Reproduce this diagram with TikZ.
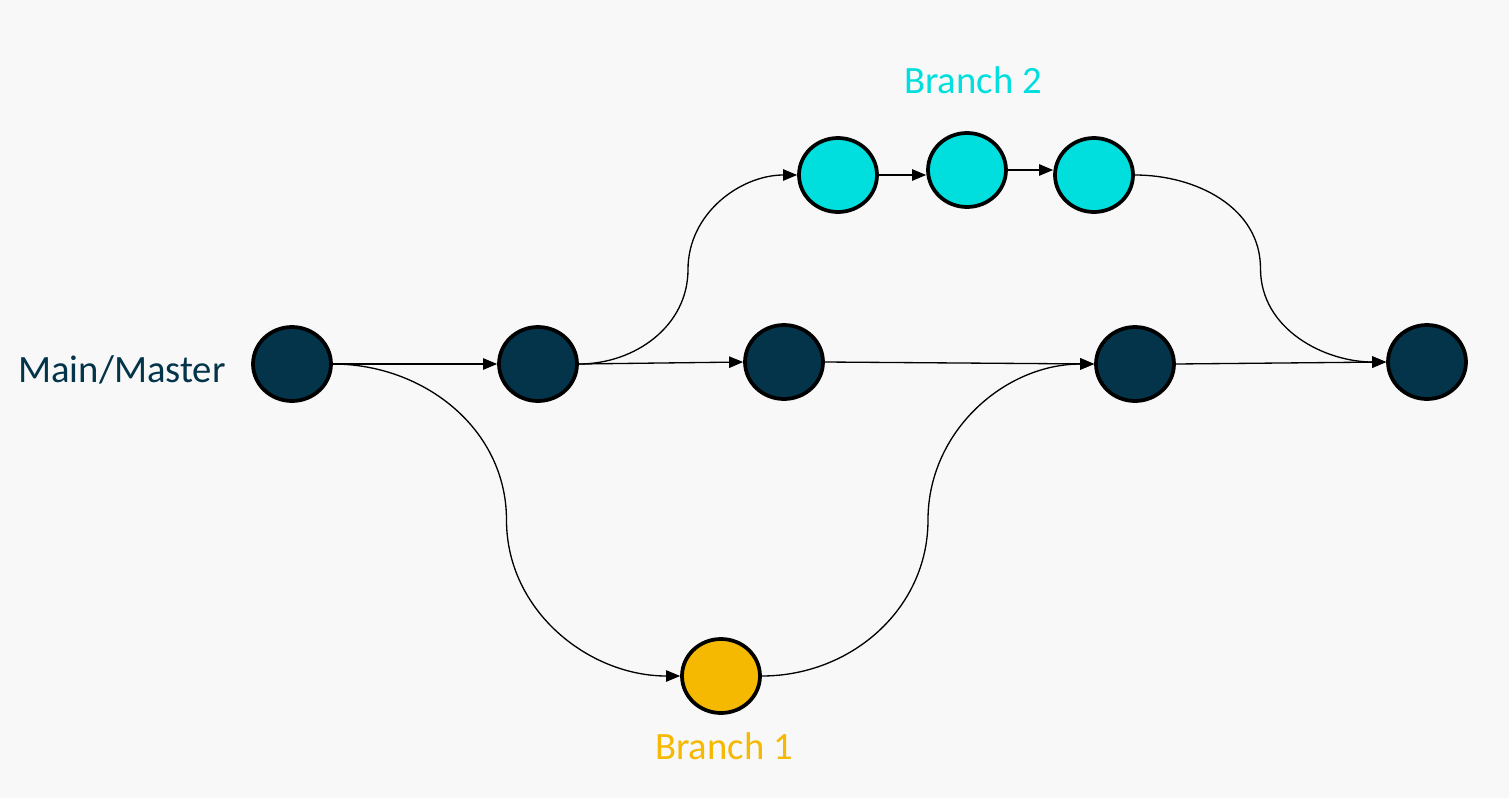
\documentclass[tikz,border=0pt]{standalone}
\usepackage{fontspec}
\setmainfont{Carlito}
\usetikzlibrary{calc,arrows.meta,shapes.geometric}
\definecolor{bgcol}{HTML}{F8F8F8}
\definecolor{maincol}{HTML}{03344A}
\definecolor{branchtwo}{HTML}{00DEDE}
\definecolor{branchone}{HTML}{F4B900}
\tikzset{
  commit/.style={ellipse, draw=black, line width=0.075cm, inner sep=0pt,
    minimum width=1.56cm, minimum height=1.48cm},
  link/.style={line width=0.75pt, -{Triangle[length=8pt,width=6.5pt]}},
  label/.style={font=\fontsize{22}{26}\selectfont}
}
\begin{document}
\begin{tikzpicture}[x=0.02cm, y=-0.02cm]
			%%%%% START %%%%%
			
			\fill[bgcol] (0, 0) rectangle (1509, 798);
			
			\node[commit, fill=maincol] (m1) at (292, 364) {};
			\node[commit, fill=maincol] (m2) at (538, 364) {};
			\node[commit, fill=maincol] (m3) at (784, 362) {};
			\node[commit, fill=maincol] (m4) at (1135, 364) {};
			\node[commit, fill=maincol] (m5) at (1427, 362) {};
			
			\node[commit, fill=branchtwo] (b2a) at (838, 175) {};
			\node[commit, fill=branchtwo] (b2b) at (967, 170) {};
			\node[commit, fill=branchtwo] (b2c) at (1094, 175) {};
			
			\node[commit, fill=branchone] (b1) at (721, 676) {};
			
			\node[label, text=maincol] (mainlbl) at (122, 370) {Main/Master};
			\node[label, text=branchtwo] (b2lbl) at (973, 80) {Branch 2};
			\node[label, text=branchone] (b1lbl) at (724, 746) {Branch 1};
			
			\draw[link] (m1.east) -- (m2.west);
			\draw[link] (m2.east) -- (m3.west);
			\draw[link] (m3.east) -- (m4.west);
			\draw[link] (m4.east) -- (m5.west);
			\draw[link] (b2a.east) -- (b2a.east -| b2b.west);
			\draw[link] (b2b.east) -- (b2b.east -| b2c.west);
			
			\draw[link] (m1.east) to[out=0, in=90] ($(m1.east)!0.5!(b1.west)$)
				to[out=-90, in=180] (b1.west);
			\draw[link] (b1.east) to[out=0, in=-90] ($(b1.east)!0.5!(m4.west)$)
				to[out=90, in=180] (m4.west);
			\draw[link] (m2.east) to[out=0, in=-90] ($(m2.east)!0.5!(b2a.west)$)
				to[out=90, in=180] (b2a.west);
			\draw[link] (b2c.east) to[out=0, in=90] ($(b2c.east)!0.5!(m5.west)$)
				to[out=-90, in=180] (m5.west);
			
			%%%%% END %%%%%
\end{tikzpicture}
\end{document}
